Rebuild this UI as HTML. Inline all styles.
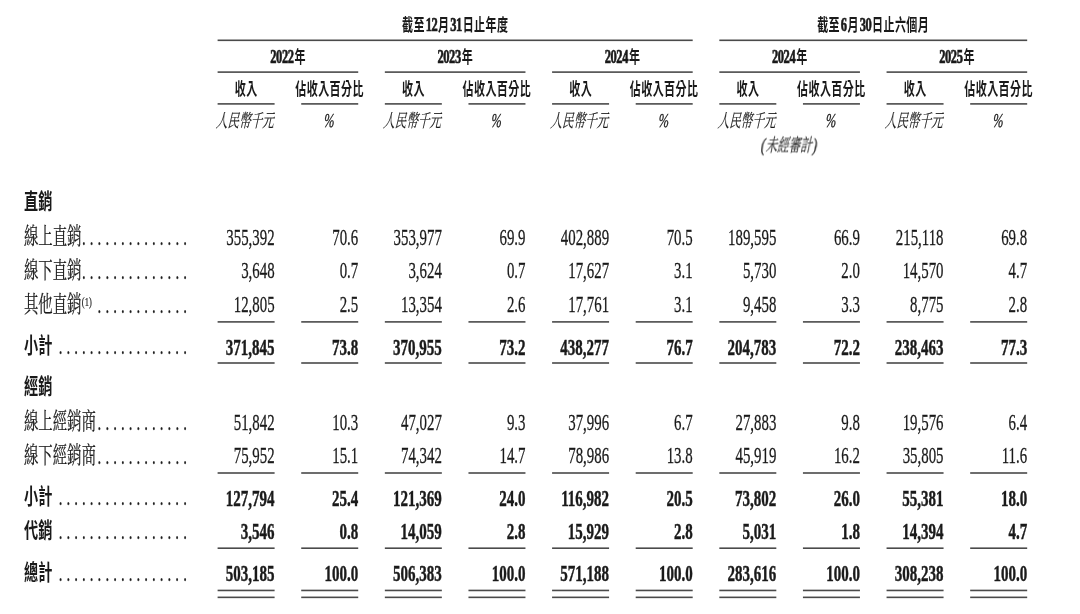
<!DOCTYPE html>
<html lang="zh-Hant">
<head>
<meta charset="utf-8">
<title>收入明細</title>
<style>
html,body{margin:0;padding:0;background:#fff;}
body{width:1080px;height:614px;overflow:hidden;}
svg{display:block;}
text{fill:#1a1a1a;}
.rules rect{fill:#4a4a4a;}
.hc{font-size:17.5px;font-family:'Noto Sans CJK TC', 'Noto Sans CJK SC', sans-serif;font-weight:bold;letter-spacing:0.667px;}
.hl{font-size:19.8px;font-family:'Liberation Serif', serif;font-weight:bold;stroke:#1a1a1a;stroke-width:0.6px;vector-effect:non-scaling-stroke;}
.ic{font-size:18.2px;font-family:'Liberation Serif', 'Noto Serif CJK SC', serif;font-weight:normal;font-style:italic;stroke:#1a1a1a;stroke-width:0.12px;vector-effect:non-scaling-stroke;}
.il{font-size:19.6px;font-family:'Liberation Serif', serif;font-weight:normal;font-style:italic;stroke:#1a1a1a;stroke-width:0.3px;vector-effect:non-scaling-stroke;}
.bc{font-size:22.8px;font-family:'Liberation Serif', 'Noto Serif CJK SC', serif;font-weight:normal;stroke:#1a1a1a;stroke-width:0.2px;vector-effect:non-scaling-stroke;}
.bl{font-size:23.2px;font-family:'Liberation Serif', serif;font-weight:normal;stroke:#1a1a1a;stroke-width:0.25px;vector-effect:non-scaling-stroke;}
.Bc{font-size:21.6px;font-family:'Noto Sans CJK TC', 'Noto Sans CJK SC', sans-serif;font-weight:bold;}
.Bl{font-size:23.6px;font-family:'Liberation Serif', serif;font-weight:bold;stroke:#1a1a1a;stroke-width:0.4px;vector-effect:non-scaling-stroke;}
.sup{font-size:13.5px;font-family:'Liberation Serif', serif;font-weight:normal;}
</style>
</head>
<body>
<svg width="1080" height="614" viewBox="0 0 1080 614">
<rect x="0" y="0" width="1080" height="614" fill="#ffffff"/>
<defs>
<filter id="soft" x="0" y="0" width="1080" height="614" filterUnits="userSpaceOnUse" color-interpolation-filters="sRGB">
<feGaussianBlur stdDeviation="0.45 0.35"/>
<feComponentTransfer><feFuncA type="linear" slope="1.0" intercept="0"/></feComponentTransfer>
</filter>
<filter id="softl" x="0" y="0" width="1080" height="614" filterUnits="userSpaceOnUse" color-interpolation-filters="sRGB">
<feGaussianBlur stdDeviation="0.4"/>
</filter>
</defs>
<g class="rules" filter="url(#softl)">
<rect x="217.60" y="39.50" width="475.10" height="1.6"/>
<rect x="719.32" y="39.50" width="307.86" height="1.6"/>
<rect x="217.60" y="71.30" width="140.62" height="1.6"/>
<rect x="384.84" y="71.30" width="140.62" height="1.6"/>
<rect x="552.08" y="71.30" width="140.62" height="1.6"/>
<rect x="719.32" y="71.30" width="140.62" height="1.6"/>
<rect x="886.56" y="71.30" width="140.62" height="1.6"/>
<rect x="217.60" y="103.10" width="57.00" height="1.6"/>
<rect x="301.22" y="103.10" width="57.00" height="1.6"/>
<rect x="384.84" y="103.10" width="57.00" height="1.6"/>
<rect x="468.46" y="103.10" width="57.00" height="1.6"/>
<rect x="552.08" y="103.10" width="57.00" height="1.6"/>
<rect x="635.70" y="103.10" width="57.00" height="1.6"/>
<rect x="719.32" y="103.10" width="57.00" height="1.6"/>
<rect x="802.94" y="103.10" width="57.00" height="1.6"/>
<rect x="886.56" y="103.10" width="57.00" height="1.6"/>
<rect x="970.18" y="103.10" width="57.00" height="1.6"/>
<rect x="217.60" y="321.10" width="57.00" height="1.6"/>
<rect x="301.22" y="321.10" width="57.00" height="1.6"/>
<rect x="384.84" y="321.10" width="57.00" height="1.6"/>
<rect x="468.46" y="321.10" width="57.00" height="1.6"/>
<rect x="552.08" y="321.10" width="57.00" height="1.6"/>
<rect x="635.70" y="321.10" width="57.00" height="1.6"/>
<rect x="719.32" y="321.10" width="57.00" height="1.6"/>
<rect x="802.94" y="321.10" width="57.00" height="1.6"/>
<rect x="886.56" y="321.10" width="57.00" height="1.6"/>
<rect x="970.18" y="321.10" width="57.00" height="1.6"/>
<rect x="217.60" y="362.20" width="57.00" height="1.6"/>
<rect x="301.22" y="362.20" width="57.00" height="1.6"/>
<rect x="384.84" y="362.20" width="57.00" height="1.6"/>
<rect x="468.46" y="362.20" width="57.00" height="1.6"/>
<rect x="552.08" y="362.20" width="57.00" height="1.6"/>
<rect x="635.70" y="362.20" width="57.00" height="1.6"/>
<rect x="719.32" y="362.20" width="57.00" height="1.6"/>
<rect x="802.94" y="362.20" width="57.00" height="1.6"/>
<rect x="886.56" y="362.20" width="57.00" height="1.6"/>
<rect x="970.18" y="362.20" width="57.00" height="1.6"/>
<rect x="217.60" y="472.20" width="57.00" height="1.6"/>
<rect x="301.22" y="472.20" width="57.00" height="1.6"/>
<rect x="384.84" y="472.20" width="57.00" height="1.6"/>
<rect x="468.46" y="472.20" width="57.00" height="1.6"/>
<rect x="552.08" y="472.20" width="57.00" height="1.6"/>
<rect x="635.70" y="472.20" width="57.00" height="1.6"/>
<rect x="719.32" y="472.20" width="57.00" height="1.6"/>
<rect x="802.94" y="472.20" width="57.00" height="1.6"/>
<rect x="886.56" y="472.20" width="57.00" height="1.6"/>
<rect x="970.18" y="472.20" width="57.00" height="1.6"/>
<rect x="217.60" y="547.40" width="57.00" height="1.6"/>
<rect x="301.22" y="547.40" width="57.00" height="1.6"/>
<rect x="384.84" y="547.40" width="57.00" height="1.6"/>
<rect x="468.46" y="547.40" width="57.00" height="1.6"/>
<rect x="552.08" y="547.40" width="57.00" height="1.6"/>
<rect x="635.70" y="547.40" width="57.00" height="1.6"/>
<rect x="719.32" y="547.40" width="57.00" height="1.6"/>
<rect x="802.94" y="547.40" width="57.00" height="1.6"/>
<rect x="886.56" y="547.40" width="57.00" height="1.6"/>
<rect x="970.18" y="547.40" width="57.00" height="1.6"/>
<rect x="217.60" y="589.65" width="57.00" height="1.6"/>
<rect x="301.22" y="589.65" width="57.00" height="1.6"/>
<rect x="384.84" y="589.65" width="57.00" height="1.6"/>
<rect x="468.46" y="589.65" width="57.00" height="1.6"/>
<rect x="552.08" y="589.65" width="57.00" height="1.6"/>
<rect x="635.70" y="589.65" width="57.00" height="1.6"/>
<rect x="719.32" y="589.65" width="57.00" height="1.6"/>
<rect x="802.94" y="589.65" width="57.00" height="1.6"/>
<rect x="886.56" y="589.65" width="57.00" height="1.6"/>
<rect x="970.18" y="589.65" width="57.00" height="1.6"/>
<rect x="217.60" y="596.55" width="57.00" height="1.6"/>
<rect x="301.22" y="596.55" width="57.00" height="1.6"/>
<rect x="384.84" y="596.55" width="57.00" height="1.6"/>
<rect x="468.46" y="596.55" width="57.00" height="1.6"/>
<rect x="552.08" y="596.55" width="57.00" height="1.6"/>
<rect x="635.70" y="596.55" width="57.00" height="1.6"/>
<rect x="719.32" y="596.55" width="57.00" height="1.6"/>
<rect x="802.94" y="596.55" width="57.00" height="1.6"/>
<rect x="886.56" y="596.55" width="57.00" height="1.6"/>
<rect x="970.18" y="596.55" width="57.00" height="1.6"/>
</g>
<g filter="url(#soft)">
<text transform="translate(401.97,30.90) scale(0.63,1)"><tspan class="hc" x="0.00">截至</tspan><tspan class="hl" x="37.60" style="letter-spacing:-0.707px">12</tspan><tspan class="hc" x="57.26">月</tspan><tspan class="hl" x="76.70" style="letter-spacing:-0.707px">31</tspan><tspan class="hc" x="96.35">日止年度</tspan></text>
<text transform="translate(817.14,30.90) scale(0.63,1)"><tspan class="hc" x="0.00">截至</tspan><tspan class="hl" x="37.60" style="letter-spacing:-0.707px">6</tspan><tspan class="hc" x="48.07">月</tspan><tspan class="hl" x="67.50" style="letter-spacing:-0.707px">30</tspan><tspan class="hc" x="87.16">日止六個月</tspan></text>
<text transform="translate(270.31,63.20) scale(0.63,1)"><tspan class="hl" x="0.00" style="letter-spacing:-0.707px">2022</tspan><tspan class="hc" x="38.36">年</tspan></text>
<text transform="translate(437.55,63.20) scale(0.63,1)"><tspan class="hl" x="0.00" style="letter-spacing:-0.707px">2023</tspan><tspan class="hc" x="38.36">年</tspan></text>
<text transform="translate(604.79,63.20) scale(0.63,1)"><tspan class="hl" x="0.00" style="letter-spacing:-0.707px">2024</tspan><tspan class="hc" x="38.36">年</tspan></text>
<text transform="translate(772.03,63.20) scale(0.63,1)"><tspan class="hl" x="0.00" style="letter-spacing:-0.707px">2024</tspan><tspan class="hc" x="38.36">年</tspan></text>
<text transform="translate(939.27,63.20) scale(0.63,1)"><tspan class="hl" x="0.00" style="letter-spacing:-0.707px">2025</tspan><tspan class="hc" x="38.36">年</tspan></text>
<text transform="translate(234.87,95.20) scale(0.63,1)"><tspan class="hc" x="0.00">收入</tspan></text>
<text transform="translate(215.81,126.50) scale(0.635,1) skewX(-6)"><tspan class="ic" x="0.00">人民幣千元</tspan></text>
<text transform="translate(295.30,95.20) scale(0.63,1)"><tspan class="hc" x="0.00">佔收入百分比</tspan></text>
<text transform="translate(323.74,126.50) scale(0.635,1) skewX(-6)"><tspan class="il" x="0.00">%</tspan></text>
<text transform="translate(402.11,95.20) scale(0.63,1)"><tspan class="hc" x="0.00">收入</tspan></text>
<text transform="translate(383.05,126.50) scale(0.635,1) skewX(-6)"><tspan class="ic" x="0.00">人民幣千元</tspan></text>
<text transform="translate(462.54,95.20) scale(0.63,1)"><tspan class="hc" x="0.00">佔收入百分比</tspan></text>
<text transform="translate(490.98,126.50) scale(0.635,1) skewX(-6)"><tspan class="il" x="0.00">%</tspan></text>
<text transform="translate(569.35,95.20) scale(0.63,1)"><tspan class="hc" x="0.00">收入</tspan></text>
<text transform="translate(550.29,126.50) scale(0.635,1) skewX(-6)"><tspan class="ic" x="0.00">人民幣千元</tspan></text>
<text transform="translate(629.78,95.20) scale(0.63,1)"><tspan class="hc" x="0.00">佔收入百分比</tspan></text>
<text transform="translate(658.22,126.50) scale(0.635,1) skewX(-6)"><tspan class="il" x="0.00">%</tspan></text>
<text transform="translate(736.59,95.20) scale(0.63,1)"><tspan class="hc" x="0.00">收入</tspan></text>
<text transform="translate(717.53,126.50) scale(0.635,1) skewX(-6)"><tspan class="ic" x="0.00">人民幣千元</tspan></text>
<text transform="translate(797.02,95.20) scale(0.63,1)"><tspan class="hc" x="0.00">佔收入百分比</tspan></text>
<text transform="translate(825.46,126.50) scale(0.635,1) skewX(-6)"><tspan class="il" x="0.00">%</tspan></text>
<text transform="translate(903.83,95.20) scale(0.63,1)"><tspan class="hc" x="0.00">收入</tspan></text>
<text transform="translate(884.77,126.50) scale(0.635,1) skewX(-6)"><tspan class="ic" x="0.00">人民幣千元</tspan></text>
<text transform="translate(964.26,95.20) scale(0.63,1)"><tspan class="hc" x="0.00">佔收入百分比</tspan></text>
<text transform="translate(992.70,126.50) scale(0.635,1) skewX(-6)"><tspan class="il" x="0.00">%</tspan></text>
<text transform="translate(760.64,151.50) scale(0.635,1) skewX(-6)"><tspan class="il" x="0.00">(</tspan><tspan class="ic" x="7.47">未經審計</tspan><tspan class="il" x="81.85">)</tspan></text>
<text class="Bc" transform="translate(24.00,208.90) scale(0.655,1)" text-anchor="start">直銷</text>
<text class="bc" transform="translate(24.00,244.10) scale(0.631,1)" text-anchor="start">線上直銷</text>
<text class="bl" transform="translate(82.06,244.80) scale(0.641,1)" style="letter-spacing:6.337px">..............</text>
<text class="bl" transform="translate(274.60,244.60) scale(0.641,1)" text-anchor="end">355,392</text>
<text class="bl" transform="translate(358.22,244.60) scale(0.641,1)" text-anchor="end">70.6</text>
<text class="bl" transform="translate(441.84,244.60) scale(0.641,1)" text-anchor="end">353,977</text>
<text class="bl" transform="translate(525.46,244.60) scale(0.641,1)" text-anchor="end">69.9</text>
<text class="bl" transform="translate(609.08,244.60) scale(0.641,1)" text-anchor="end">402,889</text>
<text class="bl" transform="translate(692.70,244.60) scale(0.641,1)" text-anchor="end">70.5</text>
<text class="bl" transform="translate(776.32,244.60) scale(0.641,1)" text-anchor="end">189,595</text>
<text class="bl" transform="translate(859.94,244.60) scale(0.641,1)" text-anchor="end">66.9</text>
<text class="bl" transform="translate(943.56,244.60) scale(0.641,1)" text-anchor="end">215,118</text>
<text class="bl" transform="translate(1027.18,244.60) scale(0.641,1)" text-anchor="end">69.8</text>
<text class="bc" transform="translate(24.00,277.90) scale(0.631,1)" text-anchor="start">線下直銷</text>
<text class="bl" transform="translate(82.06,278.60) scale(0.641,1)" style="letter-spacing:6.337px">..............</text>
<text class="bl" transform="translate(274.60,278.40) scale(0.641,1)" text-anchor="end">3,648</text>
<text class="bl" transform="translate(358.22,278.40) scale(0.641,1)" text-anchor="end">0.7</text>
<text class="bl" transform="translate(441.84,278.40) scale(0.641,1)" text-anchor="end">3,624</text>
<text class="bl" transform="translate(525.46,278.40) scale(0.641,1)" text-anchor="end">0.7</text>
<text class="bl" transform="translate(609.08,278.40) scale(0.641,1)" text-anchor="end">17,627</text>
<text class="bl" transform="translate(692.70,278.40) scale(0.641,1)" text-anchor="end">3.1</text>
<text class="bl" transform="translate(776.32,278.40) scale(0.641,1)" text-anchor="end">5,730</text>
<text class="bl" transform="translate(859.94,278.40) scale(0.641,1)" text-anchor="end">2.0</text>
<text class="bl" transform="translate(943.56,278.40) scale(0.641,1)" text-anchor="end">14,570</text>
<text class="bl" transform="translate(1027.18,278.40) scale(0.641,1)" text-anchor="end">4.7</text>
<text class="bc" transform="translate(24.00,311.80) scale(0.631,1)" text-anchor="start">其他直銷<tspan class="sup" dx="0.5" dy="-5.9">(1)</tspan></text>
<text class="bl" transform="translate(97.62,312.50) scale(0.641,1)" style="letter-spacing:6.337px">............</text>
<text class="bl" transform="translate(274.60,312.30) scale(0.641,1)" text-anchor="end">12,805</text>
<text class="bl" transform="translate(358.22,312.30) scale(0.641,1)" text-anchor="end">2.5</text>
<text class="bl" transform="translate(441.84,312.30) scale(0.641,1)" text-anchor="end">13,354</text>
<text class="bl" transform="translate(525.46,312.30) scale(0.641,1)" text-anchor="end">2.6</text>
<text class="bl" transform="translate(609.08,312.30) scale(0.641,1)" text-anchor="end">17,761</text>
<text class="bl" transform="translate(692.70,312.30) scale(0.641,1)" text-anchor="end">3.1</text>
<text class="bl" transform="translate(776.32,312.30) scale(0.641,1)" text-anchor="end">9,458</text>
<text class="bl" transform="translate(859.94,312.30) scale(0.641,1)" text-anchor="end">3.3</text>
<text class="bl" transform="translate(943.56,312.30) scale(0.641,1)" text-anchor="end">8,775</text>
<text class="bl" transform="translate(1027.18,312.30) scale(0.641,1)" text-anchor="end">2.8</text>
<text class="Bc" transform="translate(24.00,353.40) scale(0.655,1)" text-anchor="start">小計</text>
<text class="bl" transform="translate(58.72,354.40) scale(0.641,1)" style="letter-spacing:6.337px">.................</text>
<text class="Bl" transform="translate(274.60,354.60) scale(0.636,1)" text-anchor="end">371,845</text>
<text class="Bl" transform="translate(358.22,354.60) scale(0.636,1)" text-anchor="end">73.8</text>
<text class="Bl" transform="translate(441.84,354.60) scale(0.636,1)" text-anchor="end">370,955</text>
<text class="Bl" transform="translate(525.46,354.60) scale(0.636,1)" text-anchor="end">73.2</text>
<text class="Bl" transform="translate(609.08,354.60) scale(0.636,1)" text-anchor="end">438,277</text>
<text class="Bl" transform="translate(692.70,354.60) scale(0.636,1)" text-anchor="end">76.7</text>
<text class="Bl" transform="translate(776.32,354.60) scale(0.636,1)" text-anchor="end">204,783</text>
<text class="Bl" transform="translate(859.94,354.60) scale(0.636,1)" text-anchor="end">72.2</text>
<text class="Bl" transform="translate(943.56,354.60) scale(0.636,1)" text-anchor="end">238,463</text>
<text class="Bl" transform="translate(1027.18,354.60) scale(0.636,1)" text-anchor="end">77.3</text>
<text class="Bc" transform="translate(24.00,394.30) scale(0.655,1)" text-anchor="start">經銷</text>
<text class="bc" transform="translate(24.00,429.10) scale(0.631,1)" text-anchor="start">線上經銷商</text>
<text class="bl" transform="translate(97.62,429.80) scale(0.641,1)" style="letter-spacing:6.337px">............</text>
<text class="bl" transform="translate(274.60,429.60) scale(0.641,1)" text-anchor="end">51,842</text>
<text class="bl" transform="translate(358.22,429.60) scale(0.641,1)" text-anchor="end">10.3</text>
<text class="bl" transform="translate(441.84,429.60) scale(0.641,1)" text-anchor="end">47,027</text>
<text class="bl" transform="translate(525.46,429.60) scale(0.641,1)" text-anchor="end">9.3</text>
<text class="bl" transform="translate(609.08,429.60) scale(0.641,1)" text-anchor="end">37,996</text>
<text class="bl" transform="translate(692.70,429.60) scale(0.641,1)" text-anchor="end">6.7</text>
<text class="bl" transform="translate(776.32,429.60) scale(0.641,1)" text-anchor="end">27,883</text>
<text class="bl" transform="translate(859.94,429.60) scale(0.641,1)" text-anchor="end">9.8</text>
<text class="bl" transform="translate(943.56,429.60) scale(0.641,1)" text-anchor="end">19,576</text>
<text class="bl" transform="translate(1027.18,429.60) scale(0.641,1)" text-anchor="end">6.4</text>
<text class="bc" transform="translate(24.00,462.80) scale(0.631,1)" text-anchor="start">線下經銷商</text>
<text class="bl" transform="translate(97.62,463.50) scale(0.641,1)" style="letter-spacing:6.337px">............</text>
<text class="bl" transform="translate(274.60,463.30) scale(0.641,1)" text-anchor="end">75,952</text>
<text class="bl" transform="translate(358.22,463.30) scale(0.641,1)" text-anchor="end">15.1</text>
<text class="bl" transform="translate(441.84,463.30) scale(0.641,1)" text-anchor="end">74,342</text>
<text class="bl" transform="translate(525.46,463.30) scale(0.641,1)" text-anchor="end">14.7</text>
<text class="bl" transform="translate(609.08,463.30) scale(0.641,1)" text-anchor="end">78,986</text>
<text class="bl" transform="translate(692.70,463.30) scale(0.641,1)" text-anchor="end">13.8</text>
<text class="bl" transform="translate(776.32,463.30) scale(0.641,1)" text-anchor="end">45,919</text>
<text class="bl" transform="translate(859.94,463.30) scale(0.641,1)" text-anchor="end">16.2</text>
<text class="bl" transform="translate(943.56,463.30) scale(0.641,1)" text-anchor="end">35,805</text>
<text class="bl" transform="translate(1027.18,463.30) scale(0.641,1)" text-anchor="end">11.6</text>
<text class="Bc" transform="translate(24.00,504.30) scale(0.655,1)" text-anchor="start">小計</text>
<text class="bl" transform="translate(58.72,505.30) scale(0.641,1)" style="letter-spacing:6.337px">.................</text>
<text class="Bl" transform="translate(274.60,505.50) scale(0.636,1)" text-anchor="end">127,794</text>
<text class="Bl" transform="translate(358.22,505.50) scale(0.636,1)" text-anchor="end">25.4</text>
<text class="Bl" transform="translate(441.84,505.50) scale(0.636,1)" text-anchor="end">121,369</text>
<text class="Bl" transform="translate(525.46,505.50) scale(0.636,1)" text-anchor="end">24.0</text>
<text class="Bl" transform="translate(609.08,505.50) scale(0.636,1)" text-anchor="end">116,982</text>
<text class="Bl" transform="translate(692.70,505.50) scale(0.636,1)" text-anchor="end">20.5</text>
<text class="Bl" transform="translate(776.32,505.50) scale(0.636,1)" text-anchor="end">73,802</text>
<text class="Bl" transform="translate(859.94,505.50) scale(0.636,1)" text-anchor="end">26.0</text>
<text class="Bl" transform="translate(943.56,505.50) scale(0.636,1)" text-anchor="end">55,381</text>
<text class="Bl" transform="translate(1027.18,505.50) scale(0.636,1)" text-anchor="end">18.0</text>
<text class="Bc" transform="translate(24.00,537.60) scale(0.655,1)" text-anchor="start">代銷</text>
<text class="bl" transform="translate(58.72,538.60) scale(0.641,1)" style="letter-spacing:6.337px">.................</text>
<text class="Bl" transform="translate(274.60,538.80) scale(0.636,1)" text-anchor="end">3,546</text>
<text class="Bl" transform="translate(358.22,538.80) scale(0.636,1)" text-anchor="end">0.8</text>
<text class="Bl" transform="translate(441.84,538.80) scale(0.636,1)" text-anchor="end">14,059</text>
<text class="Bl" transform="translate(525.46,538.80) scale(0.636,1)" text-anchor="end">2.8</text>
<text class="Bl" transform="translate(609.08,538.80) scale(0.636,1)" text-anchor="end">15,929</text>
<text class="Bl" transform="translate(692.70,538.80) scale(0.636,1)" text-anchor="end">2.8</text>
<text class="Bl" transform="translate(776.32,538.80) scale(0.636,1)" text-anchor="end">5,031</text>
<text class="Bl" transform="translate(859.94,538.80) scale(0.636,1)" text-anchor="end">1.8</text>
<text class="Bl" transform="translate(943.56,538.80) scale(0.636,1)" text-anchor="end">14,394</text>
<text class="Bl" transform="translate(1027.18,538.80) scale(0.636,1)" text-anchor="end">4.7</text>
<text class="Bc" transform="translate(24.00,579.80) scale(0.655,1)" text-anchor="start">總計</text>
<text class="bl" transform="translate(58.72,580.80) scale(0.641,1)" style="letter-spacing:6.337px">.................</text>
<text class="Bl" transform="translate(274.60,581.00) scale(0.636,1)" text-anchor="end">503,185</text>
<text class="Bl" transform="translate(358.22,581.00) scale(0.636,1)" text-anchor="end">100.0</text>
<text class="Bl" transform="translate(441.84,581.00) scale(0.636,1)" text-anchor="end">506,383</text>
<text class="Bl" transform="translate(525.46,581.00) scale(0.636,1)" text-anchor="end">100.0</text>
<text class="Bl" transform="translate(609.08,581.00) scale(0.636,1)" text-anchor="end">571,188</text>
<text class="Bl" transform="translate(692.70,581.00) scale(0.636,1)" text-anchor="end">100.0</text>
<text class="Bl" transform="translate(776.32,581.00) scale(0.636,1)" text-anchor="end">283,616</text>
<text class="Bl" transform="translate(859.94,581.00) scale(0.636,1)" text-anchor="end">100.0</text>
<text class="Bl" transform="translate(943.56,581.00) scale(0.636,1)" text-anchor="end">308,238</text>
<text class="Bl" transform="translate(1027.18,581.00) scale(0.636,1)" text-anchor="end">100.0</text>
</g>
</svg>
</body>
</html>
